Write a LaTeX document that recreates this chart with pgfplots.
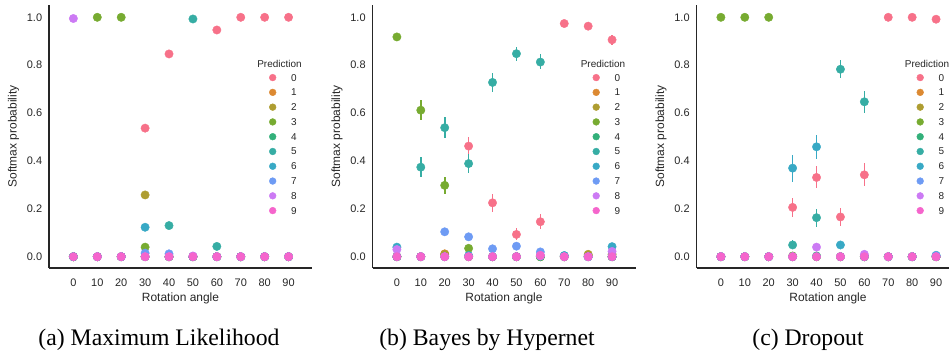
\documentclass[border=0pt]{standalone}
\usepackage{fontspec}
\setmainfont{Liberation Sans}
\newfontfamily\capfont{Liberation Serif}
\usepackage{pgfplots}
\pgfplotsset{compat=1.18}
\definecolor{c0}{HTML}{F77189}
\definecolor{c1}{HTML}{DC8932}
\definecolor{c2}{HTML}{AE9D31}
\definecolor{c3}{HTML}{77AB31}
\definecolor{c4}{HTML}{33B07A}
\definecolor{c5}{HTML}{36ADA4}
\definecolor{c6}{HTML}{38A9C5}
\definecolor{c7}{HTML}{6E9BF4}
\definecolor{c8}{HTML}{CC7AF4}
\definecolor{c9}{HTML}{F565CC}
\definecolor{txt}{rgb}{0.15,0.15,0.15}
\pgfplotsset{
  panel/.style={
    scale only axis, width=263bp, height=263bp,
    xmin=-1.02, xmax=9.98, ymin=-0.0472, ymax=1.0514,
    axis lines=left, axis line style={-, line width=1.25bp, color=txt},
    major tick length=0pt, clip=false,
    xtick={0,...,9}, xticklabels={0,10,20,30,40,50,60,70,80,90},
    ytick={0,0.2,0.4,0.6,0.8,1.0},
    yticklabels={0.0,0.2,0.4,0.6,0.8,1.0},
    /pgf/number format/assume math mode=true,
    xticklabel style={font=\fontsize{11}{13}\selectfont, text=txt, inner sep=0pt, anchor=north, yshift=-10.8bp},
    yticklabel style={font=\fontsize{11}{13}\selectfont, text=txt, inner sep=0pt, anchor=east, xshift=-6.7bp},
    xlabel={Rotation angle}, ylabel={Softmax probability},
    xlabel style={font=\fontsize{12}{14}\selectfont, text=txt, at={(axis description cs:0.5,-0.1281)}, anchor=base, inner sep=0pt},
    ylabel style={font=\fontsize{12}{14}\selectfont, text=txt, at={(axis description cs:-0.1228,0.5)}, anchor=base, rotate=0, inner sep=0pt},
    legend style={draw=none, fill=none, at={(axis description cs:0.8376,0.7373)}, anchor=north west,
      font=\fontsize{10}{12}\selectfont, text=txt, inner sep=0pt, outer sep=0pt,
      row sep=7.78bp, nodes={inner sep=0pt, text height=7bp, text depth=0bp},
      /tikz/every odd column/.append style={column sep=15.1bp}},
    legend cell align=left,
    legend image code/.code={\draw[#1, mark size=3.4bp] plot coordinates {(0bp,0bp)};},
  },
  pt/.style={only marks, mark=*, mark size=4.2bp, color=#1, mark options={draw=#1, fill=#1}},
  pe/.style={only marks, mark=*, mark size=4.2bp, color=#1, mark options={draw=#1, fill=#1},
    error bars/.cd, y dir=both, y explicit, error mark=none, error bar style={line width=1.6bp, color=#1}},
}
\newcommand{\predtitle}{\node[font=\fontsize{10}{12}\selectfont, text=txt, inner sep=0pt] at (axis description cs:0.8764,0.7776) {Prediction};}
\begin{document}
\begin{tikzpicture}
\path[use as bounding box] (0,0) rectangle (949bp,351bp);
\clip (0,0) rectangle (949bp,351bp);
% (a) Maximum Likelihood
\begin{axis}[panel, at={(49bp,83bp)}, anchor=south west]
\addplot[pt=c0] coordinates {(0,0)(1,0)(2,0)(3,0.537)(4,0.847)(5,0)(6,0.947)(7,1.0)(8,1.0)(9,1.0)};
\addplot[pt=c1] coordinates {(0,0)(1,0)(2,0)(3,0)(4,0)(5,0)(6,0)(7,0)(8,0)(9,0)};
\addplot[pt=c2] coordinates {(0,0)(1,0)(2,0)(3,0.258)(4,0)(5,0)(6,0)(7,0)(8,0)(9,0)};
\addplot[pt=c3] coordinates {(0,0)(1,1.0)(2,1.0)(3,0.04)(4,0)(5,0)(6,0)(7,0)(8,0)(9,0)};
\addplot[pt=c4] coordinates {(0,0)(1,0)(2,0)(3,0)(4,0)(5,0)(6,0)(7,0)(8,0)(9,0)};
\addplot[pt=c5] coordinates {(0,0)(1,0)(2,0)(3,0)(4,0.13)(5,0.993)(6,0.043)(7,0)(8,0)(9,0)};
\addplot[pt=c6] coordinates {(0,0)(1,0)(2,0)(3,0.123)(4,0)(5,0)(6,0)(7,0)(8,0)(9,0)};
\addplot[pt=c7] coordinates {(0,0)(1,0)(2,0)(3,0.015)(4,0.012)(5,0)(6,0)(7,0)(8,0)(9,0)};
\addplot[pt=c8] coordinates {(0,0.995)(1,0)(2,0)(3,0)(4,0)(5,0.003)(6,0)(7,0)(8,0)(9,0)};
\addplot[pt=c9] coordinates {(0,0)(1,0)(2,0)(3,0)(4,0)(5,0)(6,0)(7,0)(8,0)(9,0)};
\legend{0,1,2,3,4,5,6,7,8,9}
\predtitle
\end{axis}
% (b) Bayes by Hypernet
\begin{axis}[panel, at={(372.5bp,83bp)}, anchor=south west]
\addplot[pe=c0] coordinates {(0,0)(1,0)(2,0)(3,0.462) += (0,0.038) -= (0,0.037) (4,0.225) += (0,0.037) -= (0,0.037) (5,0.093) += (0,0.027) -= (0,0.025) (6,0.146) += (0,0.031) -= (0,0.03) (7,0.974) +- (0,0.005) (8,0.963) +- (0,0.005) (9,0.906) += (0,0.022) -= (0,0.02)};
\addplot[pe=c1] coordinates {(0,0)(1,0)(2,0.012)(3,0)(4,0)(5,0)(6,0)(7,0)(8,0.005)(9,0)};
\addplot[pe=c2] coordinates {(0,0)(1,0)(2,0.01)(3,0)(4,0)(5,0)(6,0)(7,0)(8,0.01)(9,0.01)};
\addplot[pe=c3] coordinates {(0,0.918) +- (0,0.012) (1,0.612) += (0,0.043) -= (0,0.04) (2,0.298) += (0,0.037) -= (0,0.038) (3,0.035) +- (0,0.008) (4,0)(5,0)(6,0)(7,0)(8,0)(9,0)};
\addplot[pe=c4] coordinates {(0,0)(1,0)(2,0)(3,0)(4,0)(5,0)(6,0)(7,0)(8,0)(9,0)};
\addplot[pe=c5] coordinates {(0,0)(1,0.374) +- (0,0.041) (2,0.539) += (0,0.045) -= (0,0.042) (3,0.389) += (0,0.041) -= (0,0.039) (4,0.728) += (0,0.041) -= (0,0.038) (5,0.848) += (0,0.027) -= (0,0.031) (6,0.813) += (0,0.035) -= (0,0.031) (7,0.003)(8,0)(9,0)};
\addplot[pe=c6] coordinates {(0,0.04) +- (0,0.006) (1,0)(2,0)(3,0.005)(4,0)(5,0)(6,0.005)(7,0.005)(8,0)(9,0.042) +- (0,0.008)};
\addplot[pe=c7] coordinates {(0,0)(1,0)(2,0.104) +- (0,0.013) (3,0.083) +- (0,0.012) (4,0.033) +- (0,0.005) (5,0.044) +- (0,0.008) (6,0.02) +- (0,0.005) (7,0)(8,0)(9,0)};
\addplot[pe=c8] coordinates {(0,0.03) +- (0,0.005) (1,0)(2,0)(3,0)(4,0)(5,0)(6,0.003)(7,0)(8,0)(9,0.022) +- (0,0.006)};
\addplot[pe=c9] coordinates {(0,0)(1,0)(2,0)(3,0)(4,0)(5,0)(6,0.006)(7,0)(8,0)(9,0)};
\legend{0,1,2,3,4,5,6,7,8,9}
\predtitle
\end{axis}
% (c) Dropout
\begin{axis}[panel, at={(696.5bp,83bp)}, anchor=south west]
\addplot[pe=c0] coordinates {(0,0)(1,0)(2,0)(3,0.206) +- (0,0.039) (4,0.331) += (0,0.046) -= (0,0.044) (5,0.166) += (0,0.036) -= (0,0.038) (6,0.342) += (0,0.048) -= (0,0.047) (7,1.0)(8,1.0)(9,0.992)};
\addplot[pe=c1] coordinates {(0,0)(1,0)(2,0)(3,0)(4,0)(5,0)(6,0)(7,0)(8,0)(9,0)};
\addplot[pe=c2] coordinates {(0,0)(1,0)(2,0)(3,0)(4,0)(5,0)(6,0)(7,0)(8,0)(9,0)};
\addplot[pe=c3] coordinates {(0,1.0)(1,1.0)(2,1.0)(3,0.003)(4,0)(5,0)(6,0)(7,0)(8,0)(9,0)};
\addplot[pe=c4] coordinates {(0,0)(1,0)(2,0)(3,0)(4,0.003)(5,0)(6,0)(7,0)(8,0)(9,0)};
\addplot[pe=c5] coordinates {(0,0)(1,0)(2,0)(3,0.049) += (0,0.021) -= (0,0.018) (4,0.163) += (0,0.037) -= (0,0.038) (5,0.783) += (0,0.039) -= (0,0.036) (6,0.647) += (0,0.046) -= (0,0.045) (7,0)(8,0)(9,0)};
\addplot[pe=c6] coordinates {(0,0)(1,0)(2,0)(3,0.37) += (0,0.053) -= (0,0.058) (4,0.459) +- (0,0.049) (5,0.049) +- (0,0.016) (6,0)(7,0)(8,0)(9,0.006)};
\addplot[pe=c7] coordinates {(0,0)(1,0)(2,0)(3,0)(4,0)(5,0)(6,0)(7,0)(8,0)(9,0.004)};
\addplot[pe=c8] coordinates {(0,0)(1,0)(2,0)(3,0)(4,0.04) +- (0,0.014) (5,0)(6,0.01)(7,0)(8,0)(9,0)};
\addplot[pe=c9] coordinates {(0,0)(1,0)(2,0)(3,0)(4,0)(5,0)(6,0)(7,0)(8,0)(9,0)};
\legend{0,1,2,3,4,5,6,7,8,9}
\predtitle
\end{axis}
\node[font=\capfont\fontsize{23.8}{28}\selectfont, anchor=base, inner sep=0pt] at (159bp,6bp) {(a) Maximum Likelihood};
\node[font=\capfont\fontsize{23.8}{28}\selectfont, anchor=base, inner sep=0pt] at (487bp,6bp) {(b) Bayes by Hypernet};
\node[font=\capfont\fontsize{23.8}{28}\selectfont, anchor=base, inner sep=0pt] at (808bp,6bp) {(c) Dropout};
\end{tikzpicture}
\end{document}
